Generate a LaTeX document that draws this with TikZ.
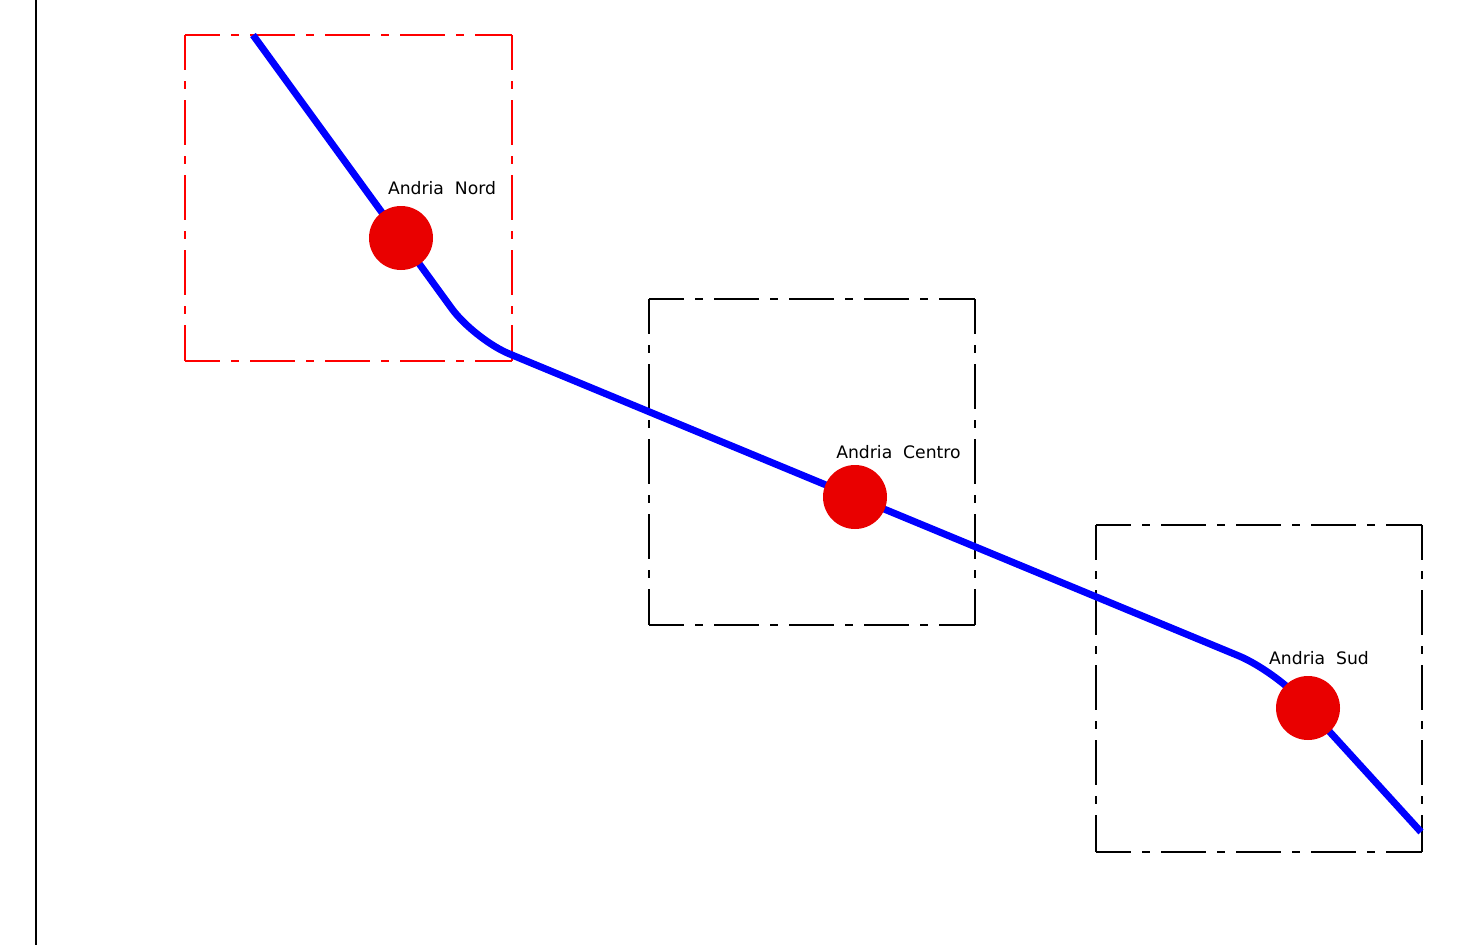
\documentclass[tikz,border=0pt]{standalone}
\usepackage{fontspec}
\setmainfont{DejaVu Sans}
\begin{document}
\begin{tikzpicture}[x=1pt,y=-1pt,
  boxline/.style={line width=1.5pt, dash pattern=on 45pt off 11pt on 8pt off 11pt, dash phase=10pt},
  route/.style={draw=blue, line width=7pt, rounded corners=38pt},
  station/.style={circle, fill=stationred, minimum size=64pt, inner sep=0pt},
  lbl/.style={font=\fontsize{17.2}{19}\selectfont, inner sep=0pt, text=black}]
\definecolor{stationred}{RGB}{233,0,0}
\useasboundingbox (0,0) rectangle (1462,945);
\fill[white] (0,0) rectangle (1462,945);
% left border
\coordinate (lt) at (36,0);
\coordinate (lb) at (36,945);
\draw[line width=2pt] (lt) -- (lb);
% boxes
\foreach \xa/\ya/\xb/\yb/\c in {185/35/512/361/red, 649/299/975/625/black, 1096/525/1422/852/black}{
  \draw[boxline,draw=\c] (\xa,\ya) -- (\xb,\ya);
  \draw[boxline,draw=\c] (\xb,\ya) -- (\xb,\yb);
  \draw[boxline,draw=\c] (\xa,\yb) -- (\xb,\yb);
  \draw[boxline,draw=\c] (\xa,\ya) -- (\xa,\yb);
}
% route
\coordinate (rs) at (253,35);
\coordinate (c1) at (474.1,339.3);
\coordinate (c2) at (1273.6,670.3);
\coordinate (re) at (1421,832);
\draw[route] (rs) -- (c1) -- (c2) -- (re);
% stations
\node[station] (nord) at (401,238) {};
\node[station] (centro) at (855,497) {};
\node[station] (sud) at (1308,708) {};
\node[lbl] (lnord) at (442,188) {Andria\ \ Nord};
\node[lbl] (lcentro) at (898.5,452) {Andria\ \ Centro};
\node[lbl] (lsud) at (1319,658) {Andria\ \ Sud};
\end{tikzpicture}
\end{document}
